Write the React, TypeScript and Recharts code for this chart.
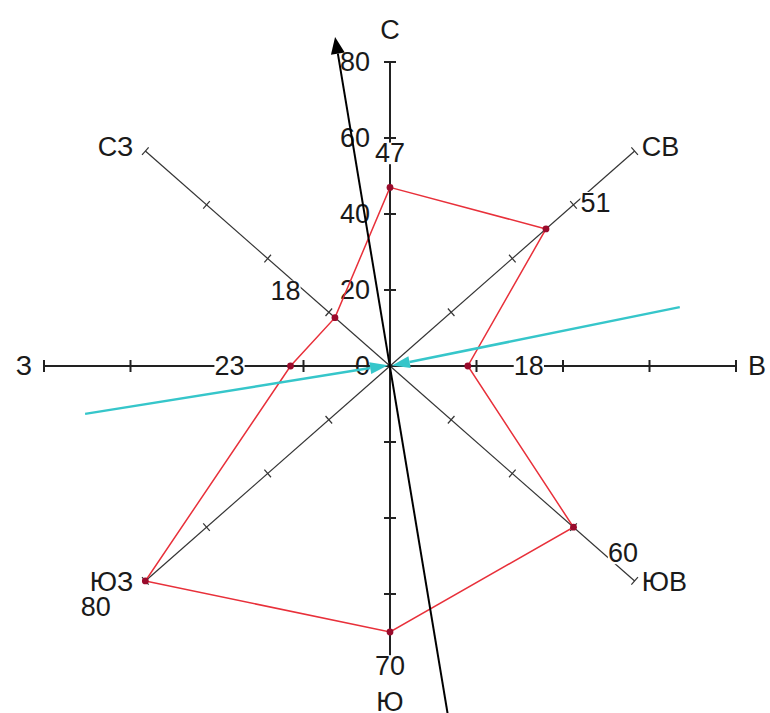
import React from 'react';
import { ScatterChart, Scatter, XAxis, YAxis } from 'recharts';

// ---- data ----
const directions = ['С', 'СВ', 'В', 'ЮВ', 'Ю', 'ЮЗ', 'З', 'СЗ'];
const directionAngles = [0, 45, 90, 135, 180, 225, 270, 315];
const values = [47, 51, 18, 60, 70, 80, 23, 18];
const axisMax = 80;
const axisTicks = [20, 40, 60, 80];
const northTickLabels = [20, 40, 60, 80];
const centerLabel = 0;
// wind vectors (tail -> head) in chart units
const blackArrow = [{ x: 13.4, y: -92 }, { x: -12.7, y: 86.6 }];
const cyanArrowLeft = [{ x: -70.5, y: -12.6 }, { x: -0.45, y: 0.2 }];
const cyanArrowRight = [{ x: 67, y: 15.5 }, { x: 0.45, y: 0.1 }];

// ---- layout ----
const W = 770;
const H = 713;
const CX = 390;
const CY = 366;
const RX = 346;
const RY = 304;
const SX = RX / axisMax;
const SY = RY / axisMax;
const xDomain = [-CX / SX, (W - CX) / SX];
const yDomain = [-(H - CY) / SY, CY / SY];
const FONT = '"Liberation Sans", Arial, sans-serif';
const FS = 27;

const rad = (d: number) => (d * Math.PI) / 180;
const polar = (angle: number, v: number) => ({
  x: v * Math.sin(rad(angle)),
  y: v * Math.cos(rad(angle)),
});

const axisEnds = [{ x: 0, y: 0 }, ...directionAngles.map((a, i) => ({ ...polar(a, axisMax), angle: a, name: directions[i] }))];
const tickData = directionAngles.flatMap((a) => axisTicks.map((t) => ({ ...polar(a, t), angle: a, t })));
const polyData = directionAngles.map((a, i) => ({ ...polar(a, values[i]), angle: a, v: values[i] }));
const northLabelData = northTickLabels.map((t) => ({ ...polar(0, t), t }));
const centerData = [{ x: 0, y: 0, t: centerLabel }];

const Empty = () => <g />;

const axesLine = (lp: any) => {
  const pts = lp.points;
  const c = pts[0];
  return (
    <g>
      {pts.slice(1).map((p: any, i: number) => {
        const main = directionAngles[i] % 90 === 0;
        return (
          <line
            key={i}
            x1={c.x}
            y1={c.y}
            x2={p.x}
            y2={p.y}
            stroke={main ? '#222' : '#333'}
            strokeWidth={main ? 2 : 1.2}
          />
        );
      })}
    </g>
  );
};

const TickMark = (props: any) => {
  const { cx, cy, payload } = props;
  const a = rad(payload.angle);
  let px = SY * Math.cos(a);
  let py = SX * Math.sin(a);
  const n = Math.hypot(px, py);
  px /= n;
  py /= n;
  const main = payload.angle % 90 === 0;
  const L = main ? 6 : 5;
  return (
    <line
      x1={cx - px * L}
      y1={cy - py * L}
      x2={cx + px * L}
      y2={cy + py * L}
      stroke={main ? '#222' : '#333'}
      strokeWidth={main ? 2 : 1.2}
    />
  );
};

const DirLabel = (props: any) => {
  const { cx, cy, payload } = props;
  if (payload.name === undefined) return <g />;
  const a = rad(payload.angle);
  const s = Math.sin(a);
  const c = Math.cos(a);
  const main = payload.angle % 90 === 0;
  const anchor = s > 0.1 ? 'start' : s < -0.1 ? 'end' : 'middle';
  const dx = main ? s * 12 : s > 0 ? 7 : -12;
  const dy = main ? -c * 32 : c > 0 ? -4 : 1;
  return (
    <text
      x={cx + dx}
      y={cy + dy}
      textAnchor={anchor}
      dominantBaseline="central"
      fontFamily={FONT}
      fontSize={FS}
      fill="#1a1a1a"
    >
      {payload.name}
    </text>
  );
};

const ValueLabel = (props: any) => {
  const { cx, cy, payload } = props;
  const a = rad(payload.angle);
  const main = payload.angle % 90 === 0;
  const x = cx + Math.sin(a) * (main ? 61 : 70);
  const y = cy - Math.cos(a) * (main ? 34 : 37);
  const txt = String(payload.v);
  const w = txt.length * FS * 0.56;
  return (
    <g>
      <rect x={x - w / 2} y={y - FS * 0.4} width={w} height={FS * 0.8} fill="#fff" />
      <text x={x} y={y} textAnchor="middle" dominantBaseline="central" fontFamily={FONT} fontSize={FS} fill="#1a1a1a">
        {txt}
      </text>
    </g>
  );
};

const Dot = (props: any) => {
  const { cx, cy } = props;
  return <circle cx={cx} cy={cy} r={3.4} fill="#9a0b2c" />;
};

const NorthLabel = (props: any) => {
  const { cx, cy, payload } = props;
  return (
    <text x={cx - 20} y={cy} textAnchor="end" dominantBaseline="central" fontFamily={FONT} fontSize={FS} fill="#1a1a1a">
      {payload.t}
    </text>
  );
};

const polygonLine = (lp: any) => (
  <polygon
    points={lp.points.map((p: any) => `${p.x},${p.y}`).join(' ')}
    fill="none"
    stroke="#e8303a"
    strokeWidth={1.5}
  />
);

const arrowLine = (color: string, width: number, headLen: number, headHalf: number) => (lp: any) => {
  const [a, b] = lp.points;
  const dx = b.x - a.x;
  const dy = b.y - a.y;
  const len = Math.hypot(dx, dy);
  const ux = dx / len;
  const uy = dy / len;
  const bx = b.x - ux * headLen;
  const by = b.y - uy * headLen;
  const nx = -uy;
  const ny = ux;
  return (
    <g>
      <line x1={a.x} y1={a.y} x2={bx} y2={by} stroke={color} strokeWidth={width} />
      <polygon
        points={`${b.x},${b.y} ${bx + nx * headHalf},${by + ny * headHalf} ${bx - nx * headHalf},${by - ny * headHalf}`}
        fill={color}
      />
    </g>
  );
};

export default function App() {
  return (
    <div style={{ position: 'absolute', left: 0, top: 0, width: W, height: H, background: '#fff' }}>
      <ScatterChart width={W} height={H} margin={{ top: 0, right: 0, bottom: 0, left: 0 }}>
        <XAxis type="number" dataKey="x" domain={xDomain} allowDataOverflow hide />
        <YAxis type="number" dataKey="y" domain={yDomain} allowDataOverflow hide />
        <Scatter data={axisEnds} line={axesLine} shape={DirLabel} isAnimationActive={false} />
        <Scatter data={tickData} shape={TickMark} isAnimationActive={false} />
        <Scatter data={northLabelData} shape={NorthLabel} isAnimationActive={false} />
        <Scatter data={centerData} shape={NorthLabel} isAnimationActive={false} />
        <Scatter data={polyData} shape={ValueLabel} isAnimationActive={false} />
        <Scatter data={polyData} line={polygonLine} shape={Dot} isAnimationActive={false} />
        <Scatter data={cyanArrowLeft} line={arrowLine('#36c6ca', 2.5, 18, 6)} shape={Empty} isAnimationActive={false} />
        <Scatter data={cyanArrowRight} line={arrowLine('#36c6ca', 2.5, 18, 6)} shape={Empty} isAnimationActive={false} />
        <Scatter data={blackArrow} line={arrowLine('#000', 2, 17, 7)} shape={Empty} isAnimationActive={false} />
      </ScatterChart>
    </div>
  );
}
